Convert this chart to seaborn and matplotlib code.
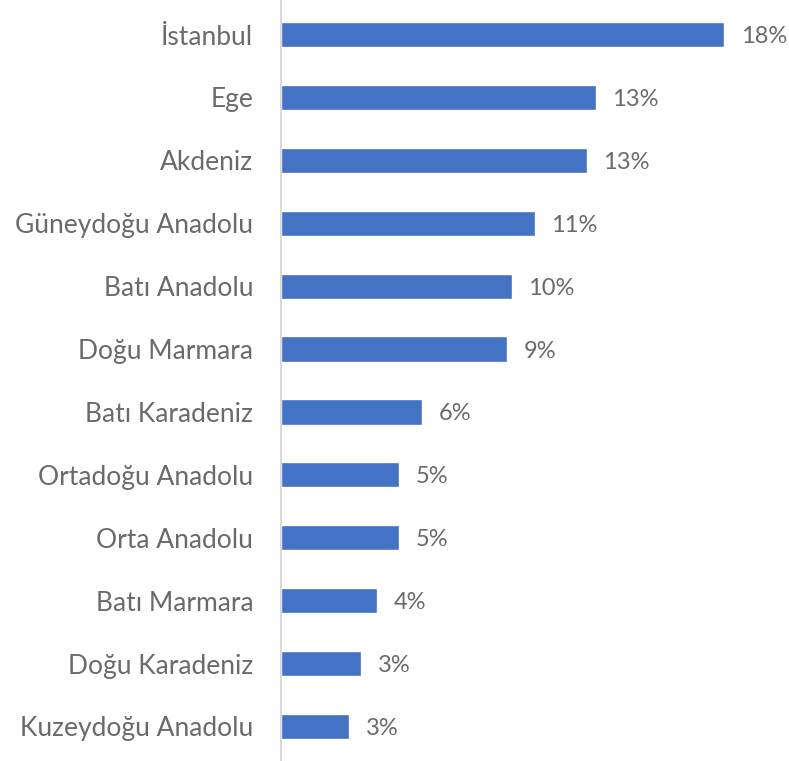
import matplotlib
matplotlib.use("Agg")
import matplotlib.pyplot as plt
import pandas as pd
import seaborn as sns

# regions and their share (%)
regions = [
    "İstanbul", "Ege", "Akdeniz", "Güneydoğu Anadolu", "Batı Anadolu",
    "Doğu Marmara", "Batı Karadeniz", "Ortadoğu Anadolu", "Orta Anadolu",
    "Batı Marmara", "Doğu Karadeniz", "Kuzeydoğu Anadolu",
]
shares = [18.4, 13.06, 12.68, 10.53, 9.57, 9.37, 5.84, 4.9, 4.88, 3.97, 3.31, 2.83]
labels = ["18%", "13%", "13%", "11%", "10%", "9%", "6%", "5%", "5%", "4%", "3%", "3%"]

df = pd.DataFrame({"region": regions, "share": shares})

sns.set_style("white")
plt.rcParams["font.family"] = ["Lato", "DejaVu Sans"]
text_grey = "#6A6A6A"

W, H = 789, 761
fig = plt.figure(figsize=(W / 100, H / 100), dpi=100)
left = 281 / W
right = 0.99
ax = fig.add_axes([left, 0.0, right - left, 1.0])

sns.barplot(data=df, y="region", x="share", orient="h", color="#4472C4",
            saturation=1, width=0.4, ax=ax)

ax.set_xlim(0, (right * W - 281) / 24.1)
ax.set_ylim(len(regions) - 0.5 + 0.05, -0.5 - 0.05)

for i, (v, lab) in enumerate(zip(shares, labels)):
    ax.annotate(lab, (v, i), xytext=(12, 0), textcoords="offset points",
                va="center_baseline", ha="left", fontsize=17, color=text_grey)

ax.set_xlabel("")
ax.set_ylabel("")
ax.set_xticks([])
ax.tick_params(axis="y", length=0, pad=20, labelsize=19, labelcolor=text_grey)
for lbl in ax.get_yticklabels():
    lbl.set_verticalalignment("center_baseline")
for s in ["top", "right", "bottom"]:
    ax.spines[s].set_visible(False)
ax.spines["left"].set_color("#D9D9D9")
ax.spines["left"].set_linewidth(1.5)

plt.savefig("out.png", dpi=100)
